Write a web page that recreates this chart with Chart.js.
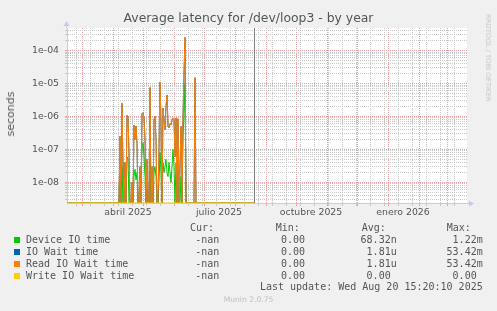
<!DOCTYPE html>
<html lang="es">
<head>
<meta charset="utf-8">
<title>Average latency for /dev/loop3 - by year</title>
<script src="https://cdn.jsdelivr.net/npm/chart.js@4.4.1/dist/chart.umd.min.js"></script>
<style>
  html, body { margin: 0; padding: 0; background: #f0f0f0; }
  #graph { position: relative; width: 497px; height: 311px; overflow: hidden; color: #555; font-family: 'DejaVu Sans', sans-serif; }
  #graph canvas { position: absolute; left: 0; top: 0; }
  #graph .t { position: absolute; white-space: pre; line-height: 12px; }
  #title { left: 0; width: 497px; top: 12px; text-align: center; font-size: 12.4px; }
  #ylabel { left: 11px; top: 114px; font-size: 11px; transform: translate(-50%, -50%) rotate(-90deg); }
  #watermark { left: 488px; top: 58px; font-size: 6.8px; color: #c8c8c8; transform: translate(-50%, -50%) rotate(90deg); }
  #version { left: 0; width: 497px; top: 294px; text-align: center; font-size: 7.6px; color: #c0c0c0; }
  .mono { font-family: 'DejaVu Sans Mono', monospace; font-size: 10px; }
  .swatch { position: absolute; width: 6px; height: 6px; }
</style>
</head>
<body>
<div id="graph">
  <canvas id="chart" width="497" height="311"></canvas>
  <div class="t" id="title">Average latency for /dev/loop3 - by year</div>
  <div class="t" id="ylabel">seconds</div>
  <div class="t" id="watermark">RRDTOOL / TOBI OETIKER</div>
  <div class="t" id="version">Munin 2.0.75</div>
</div>
<script>
// days counted from the left edge of the graph (14 feb 2025)
const nowDay = 187;          // last update, 20 aug 2025
const activeFrom = 51;       // first day with non zero latency

// Read IO Wait time (seconds), one value per day from activeFrom
const readWait = [
  0, 0, 2.5e-7, 0, 2.5e-6, 3e-8, 0, 4e-8, 0, 1.1e-6,
  1.0e-6, 8e-8, 0, 0, 1e-8, 0, 5.5e-7, 2e-7, 5e-7, 1.5e-7,
  0, 0, 3e-8, 0, 1.2e-6, 1.3e-6, 9e-7, 2e-7, 0, 5e-8,
  0, 0, 7.5e-6, 0, 3e-8, 0, 8e-7, 1e-6, 2e-7, 0,
  0, 1e-7, 1.1e-5, 6e-7, 0, 1.8e-6, 8e-7, 4e-7, 2e-6, 4.5e-6,
  5e-7, 4.5e-7, 6e-7, 5.5e-7, 8e-7, 9e-7, 8e-7, 6e-8, 9e-7, 0,
  8.5e-7, 0, 3e-8, 5e-7, 0, 1e-6, 2e-5, 2.5e-4, 0, 0,
  0, 0, 0, 0, 0, 0, 0, 1.5e-5, 0
];
// IO Wait time = read + write, write is always 0
const ioWait = readWait.slice();
const writeWait = [];
// Device IO time
const deviceTime = [
  0, 0, 5e-8, 0, 3e-8, 0, 4e-8, 1e-8, 0, 6e-8,
  5e-8, 0, 0, 0, 0, 0, 1.5e-8, 2.5e-8, 1.2e-8, 2e-8,
  0, 0, 0, 2e-8, 1e-7, 1.6e-7, 6e-8, 1.5e-8, 0, 1.2e-8,
  0, 0, 1.5e-7, 0, 0, 0, 2e-8, 3e-8, 1.5e-8, 0,
  0, 1e-8, 8e-8, 2e-8, 0, 4e-8, 2e-8, 3e-8, 5e-8, 2e-8,
  1.5e-8, 4e-8, 2e-8, 1e-8, 3e-8, 1e-7, 3e-8, 0, 4e-8, 0,
  2.5e-8, 0, 0, 1.5e-8, 0, 3e-7, 1e-6, 1e-5, 0, 0,
  0, 0, 0, 0, 0, 0, 0, 0, 0
];

// x axis: month starts (red), every second week (grey), quarter labels
const monthStartDays = [15, 46, 76, 107, 137, 168, 199, 229, 260, 290, 321, 352, 380];
const biweekDays = [9, 23, 37, 51, 65, 79, 93, 107, 121, 135, 149, 163, 177, 191,
  205, 219, 233, 247, 261, 275, 289, 303, 317, 331, 345, 359, 373, 387];
const quarterLabelDays = [61, 152, 244, 336];
const quarterLabels = ['abril 2025', 'julio 2025', 'octubre 2025', 'enero 2026'];

// y axis
const decadeValues = [1e-8, 1e-7, 1e-6, 1e-5, 1e-4];
const decadeLabels = ['1e-08', '1e-07', '1e-06', '1e-05', '1e-04'];

// legend table
const legendNames = ['Device IO time', 'IO Wait time', 'Read IO Wait time', 'Write IO Wait time'];
const legendCur = ['-nan', '-nan', '-nan', '-nan'];
const legendMin = ['0.00', '0.00', '0.00', '0.00'];
const legendAvg = ['68.32n', '1.81u', '1.81u', '0.00 '];
const legendMax = ['1.22m', '53.42m', '53.42m', '0.00 '];
const lastUpdate = 'Last update: Wed Aug 20 15:20:10 2025';

const seriesColors = ['#00cc00', '#0066b3', '#ff8000', '#ffcc00'];
const majorGrid = '#e9a0a0';
const minorGrid = '#c8c8c8';
const axisColor = '#c8c8ec';
const yMin = 2.37e-9;
const yMax = 4.83e-4;

const days = Array.from({ length: nowDay + 1 }, (_, d) => d);

function fullSeries(active) {
    return days.map(d => (d >= activeFrom && d < activeFrom + active.length) ? active[d - activeFrom] : 0);
}

// rrdtool draws zero on the floor of a log graph, Chart.js would drop it
class FloorLogScale extends Chart.LogarithmicScale {
    parse(raw, index) {
        if (raw === 0) return this.options.min;
        return super.parse(raw, index);
    }
}
FloorLogScale.id = 'floorlog';
FloorLogScale.defaults = Chart.LogarithmicScale.defaults;
Chart.register(FloorLogScale);

function sameValue(a, b) {
    return Math.abs(a / b - 1) < 1e-6;
}

function yGridValues() {
    const vals = [];
    for (let e = -9; e <= -4; e++) {
        for (let m = 1; m <= 9; m++) {
            const v = m * Math.pow(10, e);
            if (v >= yMin && v <= yMax) vals.push(v);
        }
    }
    return vals;
}

function xTickDays() {
    const all = new Set([...monthStartDays, ...biweekDays, ...quarterLabelDays]);
    return [...all].sort((a, b) => a - b);
}

function xGridColor(ctx) {
    if (!ctx.tick) return minorGrid;
    const v = ctx.tick.value;
    if (monthStartDays.includes(v)) return majorGrid;
    if (biweekDays.includes(v)) return minorGrid;
    return 'rgba(0,0,0,0)';
}

const plotFrame = {
    id: 'plotFrame',
    beforeDraw(chart) {
        const { ctx, chartArea: a } = chart;
        ctx.save();
        ctx.fillStyle = '#ffffff';
        ctx.fillRect(a.left, a.top, a.right - a.left, a.bottom - a.top);
        ctx.restore();
    },
    afterDatasetsDraw(chart) {
        const { ctx, chartArea: a, scales } = chart;
        ctx.save();
        // "now" marker
        const nx = Math.round(scales.x.getPixelForValue(nowDay)) + 0.5;
        ctx.strokeStyle = '#808080';
        ctx.lineWidth = 1;
        ctx.beginPath();
        ctx.moveTo(nx, a.top);
        ctx.lineTo(nx, a.bottom);
        ctx.stroke();
        // axis arrows
        const ax = Math.round(a.left) - 0.5;
        const ay = Math.round(a.bottom) + 0.5;
        ctx.strokeStyle = axisColor;
        ctx.fillStyle = axisColor;
        ctx.beginPath();
        ctx.moveTo(ax, a.top);
        ctx.lineTo(ax, a.top - 2);
        ctx.moveTo(a.right, ay);
        ctx.lineTo(a.right + 2, ay);
        ctx.stroke();
        ctx.beginPath();
        ctx.moveTo(ax - 3, a.top - 2);
        ctx.lineTo(ax + 3, a.top - 2);
        ctx.lineTo(ax, a.top - 7);
        ctx.closePath();
        ctx.fill();
        ctx.beginPath();
        ctx.moveTo(a.right + 2, ay - 3);
        ctx.lineTo(a.right + 2, ay + 3);
        ctx.lineTo(a.right + 7, ay);
        ctx.closePath();
        ctx.fill();
        ctx.restore();
    }
};

const tickFont = { family: 'DejaVu Sans', size: 9.33 };

new Chart(document.getElementById('chart'), {
    type: 'line',
    data: {
        labels: days,
        datasets: [
            { label: legendNames[3], data: fullSeries(writeWait), borderColor: seriesColors[3], order: 0 },
            { label: legendNames[2], data: fullSeries(readWait), borderColor: seriesColors[2], order: 1 },
            { label: legendNames[1], data: fullSeries(ioWait), borderColor: seriesColors[1], order: 2 },
            { label: legendNames[0], data: fullSeries(deviceTime), borderColor: seriesColors[0], order: 3 }
        ]
    },
    options: {
        responsive: false,
        animation: false,
        layout: { padding: { top: 28, right: 30, bottom: 88, left: 0 } },
        plugins: { legend: { display: false }, tooltip: { enabled: false }, title: { display: false } },
        elements: {
            point: { radius: 0 },
            line: { borderWidth: 1, tension: 0, fill: false }
        },
        scales: {
            x: {
                type: 'linear',
                min: 0,
                max: 400,
                afterFit: s => { s.height = 20; },
                afterBuildTicks: s => { s.ticks = xTickDays().map(v => ({ value: v })); },
                grid: { color: xGridColor, tickLength: 3, lineWidth: 1 },
                border: { color: axisColor, dash: [1, 1] },
                ticks: {
                    autoSkip: false,
                    maxRotation: 0,
                    padding: 1,
                    color: '#555',
                    font: tickFont,
                    callback: v => {
                        const i = quarterLabelDays.indexOf(v);
                        return i >= 0 ? quarterLabels[i] : '';
                    }
                }
            },
            y: {
                type: 'floorlog',
                min: yMin,
                max: yMax,
                afterFit: s => { s.width = 67; },
                afterBuildTicks: s => { s.ticks = yGridValues().map(v => ({ value: v })); },
                grid: {
                    color: ctx => (ctx.tick && decadeValues.some(d => sameValue(d, ctx.tick.value))) ? majorGrid : minorGrid,
                    tickLength: 2,
                    lineWidth: 1
                },
                border: { color: axisColor, dash: [1, 1] },
                ticks: {
                    autoSkip: false,
                    padding: 6,
                    color: '#555',
                    font: tickFont,
                    callback: v => {
                        const i = decadeValues.findIndex(d => sameValue(d, v));
                        return i >= 0 ? decadeLabels[i] : '';
                    }
                }
            }
        }
    },
    plugins: [plotFrame]
});

// legend table below the graph
const graph = document.getElementById('graph');

function addText(text, style) {
    const el = document.createElement('div');
    el.className = 't mono';
    el.textContent = text;
    Object.assign(el.style, style);
    graph.appendChild(el);
}

function rightAt(x) {
    return (497 - x).toFixed(1) + 'px';
}

addText('Cur:', { left: '190px', top: '222px' });
addText('Min:', { left: '275.7px', top: '222px' });
addText('Avg:', { left: '361.7px', top: '222px' });
addText('Max:', { left: '446.7px', top: '222px' });

legendNames.forEach((name, i) => {
    const top = 233.5 + i * 12;
    const sw = document.createElement('div');
    sw.className = 'swatch';
    sw.style.left = '14px';
    sw.style.top = (top + 3) + 'px';
    sw.style.background = seriesColors[i];
    graph.appendChild(sw);
    addText(name, { left: '26px', top: top + 'px' });
    addText(legendCur[i], { right: rightAt(219.3), top: top + 'px' });
    addText(legendMin[i], { right: rightAt(305), top: top + 'px' });
    addText(legendAvg[i], { right: rightAt(396.7), top: top + 'px' });
    addText(legendMax[i], { right: rightAt(482.7), top: top + 'px' });
});

addText(lastUpdate, { right: rightAt(482.7), top: '281.3px' });
</script>
</body>
</html>
